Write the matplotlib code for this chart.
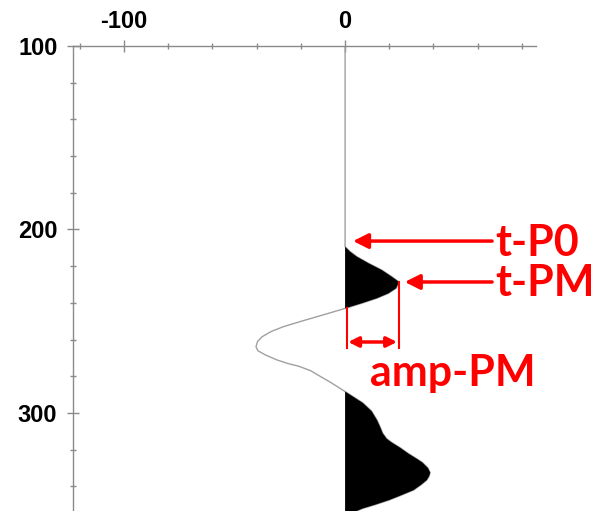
import matplotlib.pyplot as plt
import numpy as np
from matplotlib.ticker import MultipleLocator

plt.rcParams["axes.unicode_minus"] = False

tiempo = [100, 209.4, 212.1, 214.8, 218.4, 222.1, 225.7, 228.6, 232.0, 234.8,
          237.5, 240.2, 243.0, 245.6, 247.5, 250.0, 253.0, 255.5, 258.4, 261.0,
          263.9, 266.0, 268.4, 271.0, 273.0, 274.5, 277.0, 280.0, 283.0, 285.4,
          288.3, 291.0, 294.5, 299.0, 304.0, 308.0, 311.0, 314.0, 316.0, 319.0,
          322.0, 325.0, 327.0, 330.0, 332.5, 334.5, 336.5, 339.0, 342.0, 345.0,
          347.4, 350.0, 352.0, 354.0]
amplitud = [0, 0, 2.3, 5.3, 10.6, 16.6, 21.1, 24.4, 23.1, 19.6,
            14.3, 7.5, 0, -7.3, -12.7, -19.8, -28.0, -33.3, -37.5, -39.6,
            -40.3, -39.5, -36.0, -31.0, -26.0, -21.0, -15.5, -11.3, -7.0, -3.8,
            0, 3.5, 8.0, 12.0, 14.5, 16.0, 17.0, 18.8, 21.0, 25.0,
            28.5, 32.5, 35.0, 37.5, 38.5, 38.0, 37.0, 34.5, 31.0, 25.0,
            20.0, 13.5, 8.0, 4.0]

# Puntos marcados
t_p0 = 206.3
t_pm = 228.6
amp_pm = 24.4

t = np.array(tiempo)
a = np.array(amplitud)

fig = plt.figure(figsize=(6, 5.11), dpi=100)
ax = fig.add_axes([0.1217, 0.0, 0.7717, 0.91])

gris = "#8a8a8a"
ax.plot(a, t, color="#a0a0a0", lw=1.0, zorder=2)
ax.fill_betweenx(t, 0, a, where=a >= 0, color="black", lw=0, zorder=3)

ax.set_xlim(-123.1, 86.4)
ax.set_ylim(353.4, 100)

# Ejes: solo arriba e izquierda
for lado in ["right", "bottom"]:
    ax.spines[lado].set_visible(False)
for lado in ["top", "left"]:
    ax.spines[lado].set_color(gris)
    ax.spines[lado].set_linewidth(1.0)

ax.xaxis.set_major_locator(MultipleLocator(100))
ax.xaxis.set_minor_locator(MultipleLocator(20))
ax.yaxis.set_major_locator(MultipleLocator(100))
ax.yaxis.set_minor_locator(MultipleLocator(20))
ax.xaxis.tick_top()
ax.tick_params(which="major", direction="inout", length=8.5, width=1.0,
               color=gris, labelsize=17)
ax.tick_params(which="minor", direction="inout", length=4, width=1.0,
               color=gris)
ax.tick_params(axis="x", which="both", top=True, bottom=False, pad=5)
ax.tick_params(axis="y", which="both", left=True, right=False, pad=7)
for lab in ax.get_xticklabels() + ax.get_yticklabels():
    lab.set_fontfamily("Liberation Sans")
    lab.set_fontweight("bold")

rojo = "#ff0000"
fuente = dict(color=rojo, fontsize=31, fontweight="bold", family="Lato",
              va="center", ha="left")
flecha = dict(arrowstyle="-|>,head_length=0.9,head_width=0.45", color=rojo,
              lw=2.5, shrinkA=0, shrinkB=0)

# Flechas de t-P0 y t-PM
ax.annotate("", xy=(3.6, t_p0), xytext=(66.5, t_p0), arrowprops=flecha,
            annotation_clip=False)
ax.text(68.0, t_p0 + 0.8, "t-P0", clip_on=False, **fuente)
ax.annotate("", xy=(amp_pm + 2.6, t_pm), xytext=(66.5, t_pm), arrowprops=flecha,
            annotation_clip=False)
ax.text(68.0, t_pm + 0.8, "t-PM", clip_on=False, **fuente)

# Amplitud del pico
ax.plot([0.9, 0.9], [243.0, 264.6], color=rojo, lw=1.5, zorder=4)
ax.plot([amp_pm, amp_pm], [t_pm, 264.6], color=rojo, lw=1.5, zorder=4)
ax.annotate("", xy=(1.4, 261.3), xytext=(amp_pm - 0.9, 261.3),
            arrowprops=dict(arrowstyle="<|-|>,head_length=0.6,head_width=0.3",
                            color=rojo, lw=2.5, shrinkA=0, shrinkB=0))
ax.text(48.9, 278.2, "amp-PM", color=rojo, fontsize=31, fontweight="bold",
        family="Lato", ha="center", va="center")

fig.savefig("out.png", dpi=100)
